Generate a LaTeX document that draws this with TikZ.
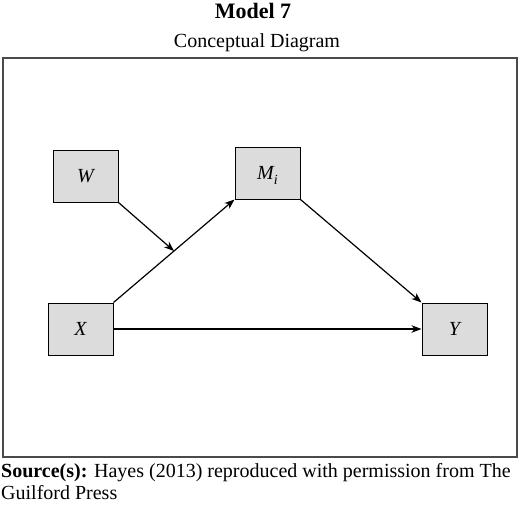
\documentclass[tikz,border=0pt]{standalone}
\usepackage{fontspec}
\setmainfont{Liberation Serif}
\usetikzlibrary{arrows.meta,calc}
\definecolor{boxfill}{HTML}{DCDCDC}
\definecolor{framecol}{HTML}{4A4A4A}
\begin{document}
\begin{tikzpicture}[x=1pt,y=-1pt,
  varbox/.style={draw=black,line width=1pt,fill=boxfill,minimum width=65pt,minimum height=52pt,inner sep=0pt,font=\fontsize{20}{22}\selectfont\itshape},
  conn/.style={line width=1.2pt,-{Stealth[length=10pt,width=7.5pt,inset=3pt]}},
  srctext/.style={font=\fontsize{20}{22}\selectfont,anchor=base west,inner sep=0pt}]
\useasboundingbox (0,0) rectangle (520,504);
\node[font=\fontsize{22}{26}\selectfont\bfseries,anchor=base] (title) at (253,18.5) {Model 7};
\node[font=\fontsize{20}{24}\selectfont,anchor=base] (sub) at (257,47.5) {Conceptual Diagram};
\node[draw=framecol,line width=1.5pt,minimum width=514pt,minimum height=399pt,inner sep=0pt] (frame) at (260,257.5) {};
\node[varbox] (W) at (85.5,176) {W};
\node[varbox] (M) at (267.5,173) {M\raisebox{-0.25em}[0pt][0pt]{\fontsize{14}{16}\selectfont i}};
\node[varbox] (X) at (80.5,329) {X};
\node[varbox] (Y) at (454.5,329) {Y};
\coordinate (mid) at ($(X.north east)!0.5!(M.south west)$);
\draw[conn] (X.north east) -- (M.south west);
\draw[conn] (W.south east) -- (mid);
\draw[conn] (M.south east) -- (Y.north west);
\draw[conn] (X.east) -- (Y.west);
\node[srctext] (src1) at (1,477) {\textbf{Source(s):} Hayes (2013) reproduced with permission from The};
\node[srctext] (src2) at (1,499) {Guilford Press};
\end{tikzpicture}
\end{document}
